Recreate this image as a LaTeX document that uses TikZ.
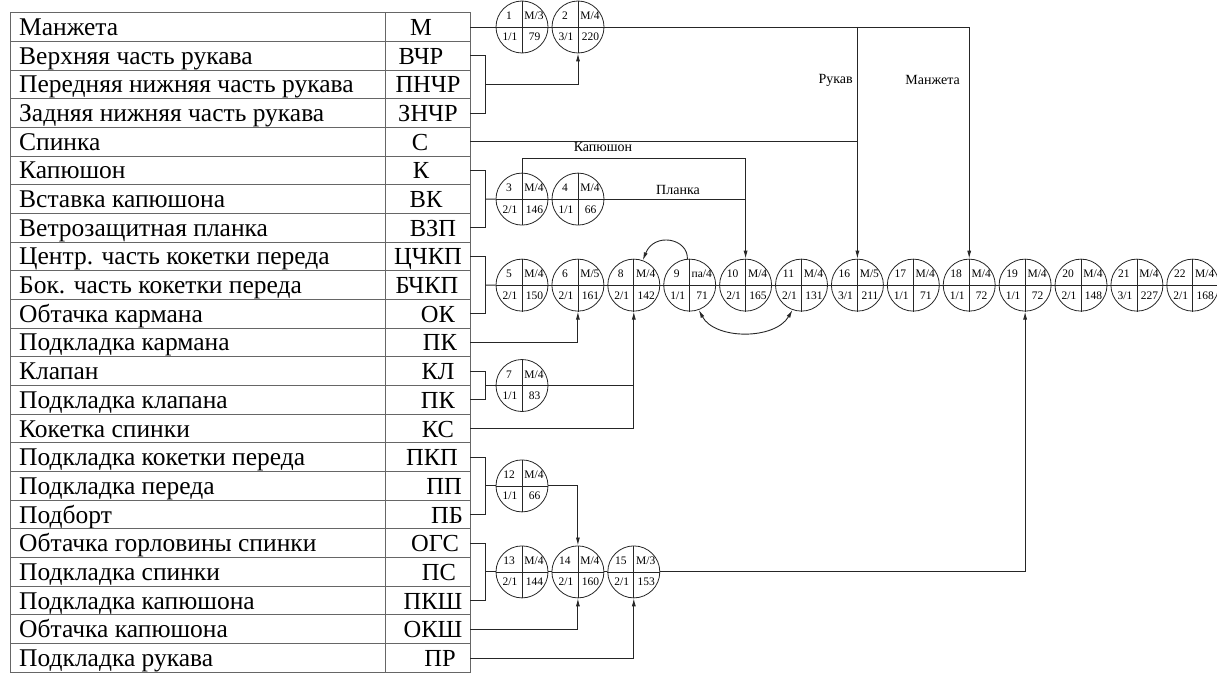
\documentclass[tikz,border=0pt]{standalone}
\usepackage{fontspec}
\setmainfont{Liberation Serif}
\usetikzlibrary{arrows.meta,calc}
\definecolor{tabline}{gray}{0.4}
\definecolor{conn}{gray}{0.15}
\newcommand{\opnode}[7]{%
  \node[op] (#1) at (#2,#3) {};
  \draw[opline] (#1.north) -- (#1.south) (#1.west) -- (#1.east);
  \node[optxt] (#1a) at ($(#1)+(-13,-7.5)$) {#4};
  \node[optxt] (#1b) at ($(#1)+(12,-7.5)$) {#5};
  \node[optxt] (#1c) at ($(#1)+(-12,14)$) {#6};
  \node[optxt] (#1d) at ($(#1)+(12.5,14)$) {#7};
}
\begin{document}
\begin{tikzpicture}[x=1pt,y=-1pt,
  cell/.style={draw=tabline, line width=0.9pt, minimum height=28.68pt, inner sep=0pt},
  nm/.style={anchor=base west, font=\fontsize{25.5}{27}\selectfont, inner sep=0pt},
  cd/.style={anchor=base, font=\fontsize{24.5}{26}\selectfont, inner sep=0pt},
  op/.style={circle, draw=conn, line width=0.8pt, minimum size=52pt, inner sep=0pt},
  opline/.style={draw=conn, line width=0.8pt},
  optxt/.style={anchor=base, font=\fontsize{11.5}{12}\selectfont, inner sep=0pt},
  wire/.style={draw=conn, line width=0.9pt},
  arr/.style={wire, -{Latex[length=8pt,width=4pt]}},
  lbl/.style={font=\fontsize{14}{15}\selectfont, inner sep=0pt}]
\useasboundingbox (0,0) rectangle (1217,677);
% table
\foreach \nm/\cd/\cx [count=\i] in {
  Манжета/М/421,
  Верхняя часть рукава/ВЧР/421,
  Передняя нижняя часть рукава/ПНЧР/428,
  Задняя нижняя часть рукава/ЗНЧР/428,
  Спинка/С/420,
  Капюшон/К/421,
  Вставка капюшона/ВК/426,
  Ветрозащитная планка/ВЗП/433,
  Центр. часть кокетки переда/ЦЧКП/428,
  Бок. часть кокетки переда/БЧКП/427,
  Обтачка кармана/ОК/438,
  Подкладка кармана/ПК/440,
  Клапан/КЛ/438,
  Подкладка клапана/ПК/438,
  Кокетка спинки/КС/438,
  Подкладка кокетки переда/ПКП/432,
  Подкладка переда/ПП/444,
  Подборт/ПБ/447,
  Обтачка горловины спинки/ОГС/435,
  Подкладка спинки/ПС/439,
  Подкладка капюшона/ПКШ/433,
  Обтачка капюшона/ОКШ/433,
  Подкладка рукава/ПР/440}{
  \pgfmathsetmacro\yy{27+(\i-1)*28.68}
  \node[cell, minimum width=375pt] (n\i) at (197.5,\yy) {};
  \node[cell, minimum width=85pt] (k\i) at (427.5,\yy) {};
  \node[nm] (tn\i) at (19,\yy+8.5) {\nm};
  \node[cd] (tc\i) at (\cx,\yy+8.5) {\cd};
}
% operation circles
\opnode{c1}{522}{27}{1}{М/3}{1/1}{79}
\opnode{c2}{578}{27}{2}{М/4}{3/1}{220}
\opnode{c3}{522}{199.08}{3}{М/4}{2/1}{146}
\opnode{c4}{578}{199.08}{4}{М/4}{1/1}{66}
\opnode{c5}{522}{285.12}{5}{М/4}{2/1}{150}
\opnode{c6}{577.9}{285.12}{6}{М/5}{2/1}{161}
\opnode{c8}{633.8}{285.12}{8}{М/4}{2/1}{142}
\opnode{c9}{689.7}{285.12}{9}{па/4}{1/1}{71}
\opnode{c10}{745.6}{285.12}{10}{М/4}{2/1}{165}
\opnode{c11}{801.5}{285.12}{11}{М/4}{2/1}{131}
\opnode{c16}{857.4}{285.12}{16}{М/5}{3/1}{211}
\opnode{c17}{913.3}{285.12}{17}{М/4}{1/1}{71}
\opnode{c18}{969.2}{285.12}{18}{М/4}{1/1}{72}
\opnode{c19}{1025.1}{285.12}{19}{М/4}{1/1}{72}
\opnode{c20}{1081}{285.12}{20}{М/4}{2/1}{148}
\opnode{c21}{1136.9}{285.12}{21}{М/4}{3/1}{227}
\opnode{c22}{1192.8}{285.12}{22}{М/4}{2/1}{168}
\opnode{c7}{522}{385.5}{7}{М/4}{1/1}{83}
\opnode{c12}{522}{485.9}{12}{М/4}{1/1}{66}
\opnode{c13}{522}{571.9}{13}{М/4}{2/1}{144}
\opnode{c14}{577.9}{571.9}{14}{М/4}{2/1}{160}
\opnode{c15}{633.8}{571.9}{15}{М/3}{2/1}{153}
% top line: cuff and sleeve
\draw[wire] (k1.east) -- (c1.west);
\draw[wire] (c1.east) -- (c2.west);
\draw[arr] (c2.east) -- (c18 |- c2) -- (c18.north);
\draw[arr] (c16 |- c2) -- (c16.north);
\node[lbl, anchor=east] (lrk) at (853,80) {Рукав};
\node[lbl, anchor=east] (lmz) at (960,80) {Манжета};
% sleeve parts
\draw[wire] (k2.east) -- ++(15,0) coordinate (b1) -- (b1 |- k4.east) -- (k4.east);
\draw[arr] (b1 |- k3.east) -| (c2.south);
% back
\draw[wire] (k5.east) -- (c16 |- k5.east);
% hood
\draw[wire] (k6.east) -- ++(15,0) coordinate (b2) -- (b2 |- k8.east) -- (k8.east);
\draw[wire] (b2 |- k7.east) -- (c3.west);
\draw[wire] (c3.east) -- (c4.west);
\draw[wire] (c4.east) -- (c10 |- c4);
\coordinate (kp) at (522,158);
\draw[arr] (c3.north) -- (kp) -- (c10 |- kp) -- (c10.north);
\node[lbl] (lkp) at (603,147) {Капюшон};
\node[lbl] (lpl) at (678,190) {Планка};
% main line
\draw[wire] (k9.east) -- ++(15,0) coordinate (b3) -- (b3 |- k11.east) -- (k11.east);
\draw[wire] (b3 |- k10.east) -- (c5.west);
\foreach \a/\b in {c5/c6,c6/c8,c8/c9,c9/c10,c10/c11,c11/c16,c16/c17,c17/c18,c18/c19,c19/c20,c20/c21,c21/c22}
  \draw[wire] (\a.east) -- (\b.west);
\draw[arr] (k12.east) -| (c6.south);
% flap
\draw[wire] (k13.east) -- ++(15,0) coordinate (b4) -- (b4 |- k14.east) -- (k14.east);
\draw[wire] (b4 |- c7) -- (c7.west);
\draw[wire] (c7.east) -- (c8 |- c7);
\draw[arr] (k15.east) -| (c8.south);
% lining
\draw[wire] (k16.east) -- ++(15,0) coordinate (b5) -- (b5 |- k18.east) -- (k18.east);
\draw[wire] (b5 |- c12) -- (c12.west);
\draw[arr] (c12.east) -| (c14.north);
\draw[wire] (k19.east) -- ++(15,0) coordinate (b6) -- (b6 |- k21.east) -- (k21.east);
\draw[wire] (b6 |- c13) -- (c13.west);
\draw[wire] (c13.east) -- (c14.west);
\draw[wire] (c14.east) -- (c15.west);
\draw[arr] (c15.east) -| (c19.south);
\draw[arr] (k22.east) -| (c14.south);
\draw[arr] (k23.east) -| (c15.south);
% curved returns
\draw[arr] (c9.95) .. controls (688,238) and (654,232) .. (c8.70);
\draw[wire, {Latex[length=8pt,width=4pt]}-{Latex[length=8pt,width=4pt]}] (c9.-70) .. controls (715,340) and (775,340) .. (c11.-110);
\end{tikzpicture}
\end{document}
